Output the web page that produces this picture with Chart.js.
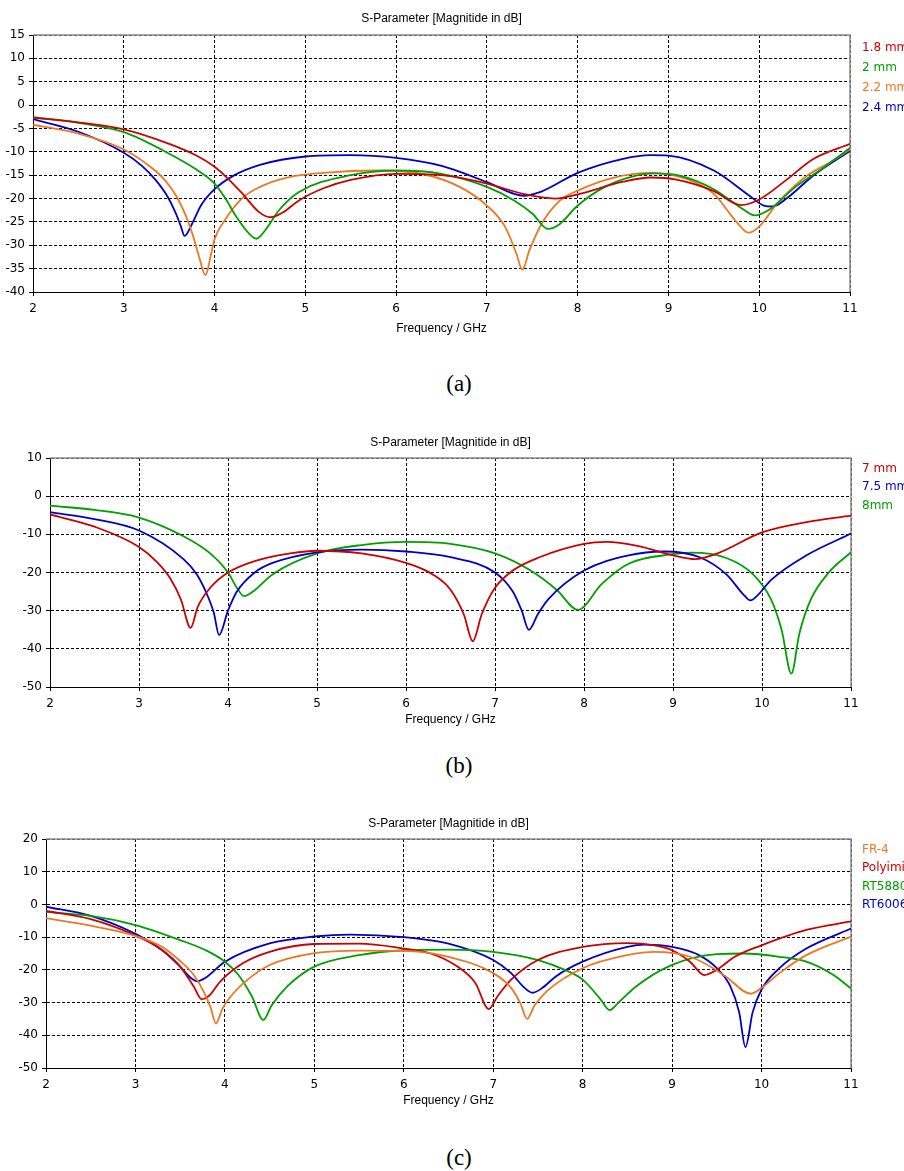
<!DOCTYPE html>
<html>
<head>
<meta charset="utf-8">
<title>S-Parameter</title>
<script src="https://cdn.jsdelivr.net/npm/chart.js@4.4.0/dist/chart.umd.min.js"></script>
<style>
    body { margin: 0; background: #fff; width: 904px; height: 1171px; position: relative; overflow: hidden; }
    canvas { position: absolute; left: 0; }
    .tag { position: absolute; left: 409px; width: 100px; text-align: center; font-family: "Liberation Serif", serif; font-size: 23px; color: #000; }
</style>
</head>
<body>
<canvas id="chartA" width="904" height="340" style="top:0px"></canvas>
<div class="tag" style="top:371px">(a)</div>
<canvas id="chartB" width="904" height="310" style="top:420px"></canvas>
<div class="tag" style="top:753px">(b)</div>
<canvas id="chartC" width="904" height="310" style="top:800px"></canvas>
<div class="tag" style="top:1145px">(c)</div>

<script>
    // (a) feed width
    var fA18 = [2, 2.5, 3, 3.5, 3.8, 4, 4.13, 4.3, 4.49, 4.62, 4.75, 4.93, 5.2, 5.5, 6, 6.5, 7, 7.4, 7.75, 8, 8.5, 8.8, 9.1, 9.5, 9.8, 10, 10.3, 10.6, 11];
    var dA18 = [-2.7, -3.7, -5.2, -8.3, -10.8, -13.2, -15.4, -18.8, -22.9, -24, -23, -20.4, -17.8, -16, -14.7, -15, -16.8, -19, -20, -19.1, -16.4, -15.5, -16, -18.4, -21.4, -20.2, -16, -11.5, -8.3];
    var fA20 = [2, 2.5, 3, 3.5, 3.8, 4, 4.12, 4.24, 4.38, 4.46, 4.55, 4.71, 4.93, 5.5, 6, 6.5, 7, 7.3, 7.5, 7.67, 7.8, 8, 8.3, 8.6, 8.85, 9.1, 9.5, 9.8, 9.95, 10.1, 10.4, 10.7, 11];
    var dA20 = [-2.6, -3.8, -5.8, -10.4, -13.8, -16.8, -20, -23.9, -27.5, -28.6, -27, -22.5, -18.6, -15, -14, -14.7, -17.5, -20.4, -23.2, -26.5, -25.5, -21.5, -17.5, -15.3, -14.6, -15, -18, -22, -23.6, -22.5, -17.5, -13.5, -9.2];
    var fA22 = [2, 2.5, 3, 3.3, 3.45, 3.58, 3.68, 3.76, 3.83, 3.9, 3.96, 4, 4.1, 4.3, 4.5, 4.8, 5.2, 5.8, 6.3, 6.7, 7, 7.2, 7.32, 7.39, 7.47, 7.6, 7.8, 8, 8.4, 8.8, 9.2, 9.5, 9.75, 9.88, 10, 10.2, 10.5, 10.8, 11];
    var dA22 = [-4.2, -6.1, -9.5, -13.3, -16, -19.5, -23.5, -27.8, -32.5, -36.4, -32, -28.7, -25, -20, -17.5, -15.5, -14.5, -14, -14.8, -17.5, -21.5, -26, -31.5, -35.2, -31, -25.5, -20.5, -18.3, -15.5, -14.5, -15.8, -19, -25, -27.3, -26, -21, -15.5, -12, -9.5];
    var fA24 = [2, 2.5, 3, 3.2, 3.35, 3.48, 3.57, 3.63, 3.67, 3.75, 3.85, 4, 4.2, 4.5, 5, 5.5, 6, 6.5, 7, 7.3, 7.4, 7.6, 8, 8.5, 8.8, 9, 9.5, 9.9, 10.05, 10.15, 10.3, 10.6, 11];
    var dA24 = [-3, -5.7, -10.2, -13, -16, -19.5, -23, -26, -28, -25.5, -21.5, -18, -15.2, -12.8, -11, -10.7, -11.3, -13, -16.5, -19, -19.4, -18.5, -14.5, -11.5, -10.7, -10.8, -14, -19.5, -21.5, -21.7, -20, -15, -9.8];

    // (b) slot length
    var fB70 = [2, 2.5, 3, 3.2, 3.35, 3.47, 3.58, 3.66, 3.8, 4, 4.3, 4.7, 5, 5.5, 6, 6.3, 6.5, 6.65, 6.75, 6.85, 7, 7.2, 7.5, 8, 8.25, 8.6, 9, 9.25, 9.5, 10, 10.5, 11];
    var dB70 = [-4.8, -8, -13.3, -17.2, -21.5, -27, -34.5, -29, -24, -20, -17, -15, -14.3, -15, -17.5, -20.5, -24.5, -31, -38, -31, -24, -19.5, -16, -12.5, -12, -13, -15.5, -16.5, -15, -9.5, -6.8, -5.1];
    var fB75 = [2, 2.5, 3, 3.5, 3.65, 3.76, 3.84, 3.9, 4, 4.1, 4.3, 4.5, 5, 5.5, 6, 6.5, 7, 7.2, 7.3, 7.38, 7.48, 7.6, 8, 8.5, 8.9, 9.3, 9.6, 9.8, 9.87, 9.95, 10.1, 10.5, 11];
    var dB75 = [-4.2, -6, -9, -16.5, -20.5, -25.5, -30.5, -36.4, -30, -25, -20, -17.5, -14.7, -14, -14.5, -16, -20, -25, -30, -35, -31, -27, -19.5, -15.5, -14.5, -16, -20.5, -26, -27.3, -26, -22, -15.5, -9.8];
    var fB80 = [2, 2.5, 3, 3.5, 3.8, 4, 4.1, 4.18, 4.28, 4.5, 5, 5.5, 6, 6.5, 7, 7.4, 7.7, 7.93, 8.2, 8.5, 9, 9.2, 9.6, 9.9, 10.1, 10.22, 10.33, 10.42, 10.55, 10.75, 11];
    var dB80 = [-2.5, -3.6, -5.6, -10.5, -15, -20, -24, -26.2, -25, -20.5, -15, -12.8, -12, -12.5, -15, -19.5, -24.7, -29.8, -23, -17.7, -15.2, -14.8, -16.2, -20.5, -27, -35, -46.5, -36, -27, -20, -14.7];

    // (c) substrate
    var fCfr = [2, 2.5, 3, 3.3, 3.5, 3.65, 3.76, 3.84, 3.9, 3.97, 4.1, 4.3, 4.5, 5, 5.5, 6, 6.5, 7, 7.2, 7.3, 7.38, 7.46, 7.6, 8, 8.5, 8.8, 9.2, 9.6, 9.8, 9.88, 10, 10.2, 10.5, 11];
    var dCfr = [-4.2, -6.5, -9.6, -13, -17.3, -21.5, -26.5, -31.5, -36.4, -32, -27, -22, -18.5, -14.9, -14.1, -14.2, -16, -21, -25.5, -30, -35, -31, -26.5, -19.5, -15.5, -14.5, -16, -22, -26.5, -27.3, -25.5, -21, -15.5, -9.8];
    var fCpi = [2, 2.5, 3, 3.3, 3.5, 3.65, 3.74, 3.82, 3.95, 4.2, 4.5, 5, 5.5, 6, 6.3, 6.6, 6.8, 6.95, 7.05, 7.2, 7.5, 8, 8.5, 8.8, 9, 9.2, 9.36, 9.5, 9.7, 10, 10.5, 11];
    var dCpi = [-2, -4.5, -9.5, -14, -19, -25, -29, -28, -23.5, -18, -14.5, -12.1, -12, -13.5, -15, -19, -24, -32, -28, -23, -17, -13, -11.8, -12.5, -14, -17.5, -21.6, -20, -16, -12.5, -7.8, -5.2];
    var fCrt58 = [2, 2.5, 3, 3.5, 3.8, 4, 4.15, 4.3, 4.43, 4.52, 4.7, 5, 5.5, 6, 6.5, 7, 7.5, 7.8, 8, 8.2, 8.3, 8.4, 8.6, 9, 9.5, 9.8, 10.2, 10.5, 10.8, 11];
    var dCrt58 = [-2.3, -3.5, -6.3, -10.9, -14.2, -17.5, -21.5, -28, -35.3, -31, -25, -19, -15.5, -14, -13.8, -14.5, -17, -20, -23, -29, -32.3, -30, -25, -18.5, -15.2, -15, -16, -17.5, -21.5, -25.7];
    var fCrt60 = [2, 2.5, 3, 3.3, 3.5, 3.62, 3.69, 3.78, 4, 4.5, 5, 5.4, 6, 6.5, 7, 7.2, 7.35, 7.44, 7.55, 7.7, 8, 8.5, 8.7, 9, 9.3, 9.5, 9.65, 9.75, 9.82, 9.9, 10, 10.2, 10.5, 11];
    var dCrt60 = [-0.7, -3.5, -9, -14, -19, -22.5, -23.5, -22.5, -17.5, -11.9, -9.8, -9.2, -10, -12, -17, -21, -25.5, -27, -25.5, -22, -17.5, -13, -12.3, -13, -15.5, -19.5, -25, -33, -43.6, -33, -26, -19.5, -13.5, -7.4];

    var RED = '#cc0000', GREEN = '#00a000', ORANGE = '#ee7722', BLUE = '#0000c8';

    function serie(label, xs, ys, color) {
        return {
            label: label,
            data: xs.map(function (x, i) { return {x: x, y: ys[i]}; }),
            borderColor: color,
            borderWidth: 1.8,
            pointRadius: 0,
            fill: false,
            cubicInterpolationMode: 'monotone'
        };
    }

    // frame, title and coloured legend text
    var decor = {
        id: 'decor',
        beforeDatasetsDraw: function (chart) {
            var a = chart.chartArea, ctx = chart.ctx;
            ctx.save();
            ctx.strokeStyle = '#8c8c8c';
            ctx.lineWidth = 1.5;
            ctx.beginPath();
            ctx.moveTo(a.left, a.top);
            ctx.lineTo(a.right, a.top);
            ctx.lineTo(a.right, a.bottom);
            ctx.stroke();
            ctx.restore();
        },
        afterDraw: function (chart, args, opts) {
            var a = chart.chartArea, ctx = chart.ctx;
            ctx.save();
            ctx.font = '12px "Liberation Sans"';
            ctx.fillStyle = '#000';
            ctx.textAlign = 'center';
            ctx.textBaseline = 'middle';
            ctx.fillText('S-Parameter [Magnitide in dB]', (a.left + a.right) / 2, opts.titleY);
            ctx.font = '12px "DejaVu Sans"';
            ctx.textAlign = 'left';
            chart.data.datasets.forEach(function (d, i) {
                ctx.fillStyle = d.borderColor;
                ctx.fillText(d.label, 862, opts.legendY + i * opts.legendGap);
            });
            ctx.restore();
        }
    };

    function faire(id, datasets, lay) {
        var tickFont = {family: 'DejaVu Sans', size: 12};
        return new Chart(document.getElementById(id), {
            type: 'line',
            data: {datasets: datasets},
            plugins: [decor],
            options: {
                responsive: false,
                animation: false,
                events: [],
                layout: {padding: {left: 0, right: 904 - lay.right, top: lay.top, bottom: 0}},
                plugins: {
                    legend: {display: false},
                    tooltip: {enabled: false},
                    decor: {titleY: lay.titleY, legendY: lay.legendY, legendGap: lay.legendGap}
                },
                scales: {
                    x: {
                        type: 'linear', min: 2, max: 11,
                        ticks: {stepSize: 1, color: '#000', font: tickFont, padding: 6},
                        grid: {color: '#000', tickColor: '#000', tickLength: 4},
                        border: {color: '#000', width: 1, dash: [3, 2]},
                        title: {display: true, text: 'Frequency / GHz', color: '#000',
                            font: {family: 'Liberation Sans', size: 12}, padding: {top: 0, bottom: lay.xPad}},
                        afterFit: function (s) { s.height = lay.xHeight; }
                    },
                    y: {
                        min: lay.yMin, max: lay.yMax,
                        ticks: {stepSize: lay.yStep, color: '#000', font: tickFont, padding: 4},
                        grid: {color: '#000', tickColor: '#000', tickLength: 4},
                        border: {color: '#000', width: 1, dash: [3, 2]},
                        afterFit: function (s) { s.width = lay.left; }
                    }
                }
            }
        });
    }

    faire('chartA', [
        serie('1.8 mm', fA18, dA18, RED),
        serie('2 mm', fA20, dA20, GREEN),
        serie('2.2 mm', fA22, dA22, ORANGE),
        serie('2.4 mm', fA24, dA24, BLUE)
    ], {left: 33, right: 850, top: 35, xHeight: 48, xPad: 4, yMin: -40, yMax: 15, yStep: 5,
        titleY: 19, legendY: 48, legendGap: 20});

    faire('chartB', [
        serie('7 mm', fB70, dB70, RED),
        serie('7.5 mm', fB75, dB75, BLUE),
        serie('8mm', fB80, dB80, GREEN)
    ], {left: 50, right: 851, top: 38, xHeight: 43, xPad: 3, yMin: -50, yMax: 10, yStep: 10,
        titleY: 23, legendY: 49, legendGap: 18.2});

    faire('chartC', [
        serie('FR-4', fCfr, dCfr, ORANGE),
        serie('Polyimide', fCpi, dCpi, RED),
        serie('RT5880', fCrt58, dCrt58, GREEN),
        serie('RT6006', fCrt60, dCrt60, BLUE)
    ], {left: 46, right: 851, top: 39, xHeight: 42, xPad: 2, yMin: -50, yMax: 20, yStep: 10,
        titleY: 24, legendY: 50, legendGap: 18.2});
</script>
</body>
</html>
